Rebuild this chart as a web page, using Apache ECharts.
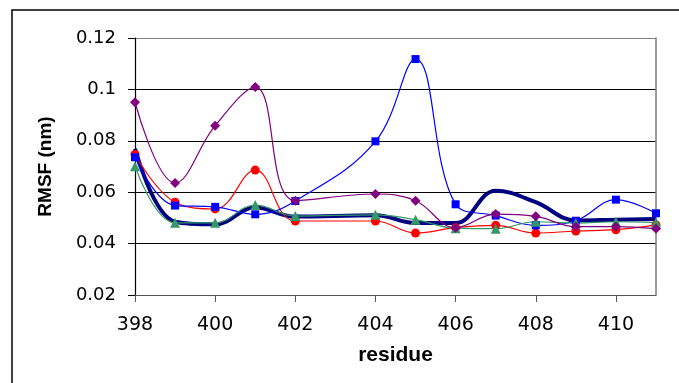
<!DOCTYPE html>
<html>
<head>
<meta charset="utf-8">
<script src="https://cdn.jsdelivr.net/npm/echarts@6/dist/echarts.min.js"></script>
<style>
  html, body { margin: 0; padding: 0; background: #fff; }
  #chart { width: 679px; height: 383px; }
</style>
</head>
<body>
<div id="chart"></div>
<script>
// residue numbers (403 has no data point)
var residues = [398, 399, 400, 401, 402, 404, 405, 406, 407, 408, 409, 410, 411];
var xTicks = [398, 400, 402, 404, 406, 408, 410];

var purpleVals = [0.095, 0.0636, 0.0859, 0.1009, 0.0567, 0.0593, 0.0567, 0.0462, 0.0515, 0.0506, 0.0466, 0.0466, 0.0458];
var blueVals   = [0.0736, 0.0548, 0.0543, 0.0514, 0.0566, 0.0798, 0.1118, 0.0553, 0.0509, 0.0471, 0.0489, 0.0571, 0.0518];
var redVals    = [0.0747, 0.0561, 0.0535, 0.0686, 0.0488, 0.0488, 0.0441, 0.0462, 0.0471, 0.0441, 0.0449, 0.0454, 0.0473];
var greenVals  = [0.0701, 0.0481, 0.0481, 0.055, 0.0507, 0.0512, 0.0493, 0.046, 0.0458, 0.0485, 0.048, 0.0485, 0.0482];
var navyVals   = [0.0769, 0.0485, 0.0475, 0.054, 0.0505, 0.051, 0.048, 0.048, 0.0606, 0.0561, 0.049, 0.0493, 0.0496];

function pairs(vals) {
    return residues.map(function (r, i) { return [r, vals[i]]; });
}

function lineSeries(name, vals, color, symbol, size, width) {
    return {
        name: name,
        type: 'line',
        smooth: 0.4,
        symbol: symbol,
        symbolSize: size,
        showSymbol: symbol !== 'none',
        itemStyle: { color: color },
        lineStyle: { color: color, width: width },
        data: pairs(vals)
    };
}

var chart = echarts.init(document.getElementById('chart'));
var option = {
    animation: false,
    backgroundColor: '#fff',
    grid: { left: 135, right: 23, top: 38, bottom: 88 },
    graphic: [{
        type: 'rect',
        shape: { x: 12, y: 10, width: 720, height: 420 },
        style: { fill: 'none', stroke: '#000', lineWidth: 1.5 },
        silent: true
    }],
    xAxis: {
        type: 'value',
        min: 398,
        max: 411,
        interval: 2,
        name: 'residue',
        nameLocation: 'middle',
        nameGap: 50,
        nameTextStyle: { fontFamily: 'Liberation Sans', fontWeight: 'bold', fontSize: 21, color: '#000' },
        axisLine: { lineStyle: { color: '#555', width: 1.2 } },
        axisTick: { show: true, length: 7, lineStyle: { color: '#555' }, customValues: xTicks },
        axisLabel: { customValues: xTicks, margin: 21, fontFamily: 'DejaVu Sans', fontSize: 19, color: '#000' },
        splitLine: { show: false }
    },
    yAxis: [{
        type: 'value',
        min: 0.02,
        max: 0.12,
        interval: 0.02,
        name: 'RMSF (nm)',
        nameLocation: 'middle',
        nameGap: 80,
        nameTextStyle: { fontFamily: 'Liberation Sans', fontWeight: 'bold', fontSize: 19, color: '#000' },
        axisLine: { show: true, lineStyle: { color: '#000', width: 1.2 } },
        axisTick: { show: true, length: 7, lineStyle: { color: '#000' } },
        axisLabel: {
            margin: 19,
            fontFamily: 'DejaVu Sans',
            fontSize: 18,
            color: '#000',
            formatter: function (v) { return String(+v.toFixed(2)); }
        },
        splitLine: {
            show: true,
            lineStyle: { color: ['#808080', '#000', '#000', '#000', '#000', '#808080'], width: 1.2 }
        }
    }, {
        type: 'value',
        position: 'right',
        min: 0.02,
        max: 0.12,
        axisLine: { show: true, lineStyle: { color: '#808080', width: 1.5 } },
        axisTick: { show: false },
        axisLabel: { show: false },
        splitLine: { show: false }
    }],
    series: [
        lineSeries('navy', navyVals, '#000080', 'none', 0, 4),
        lineSeries('red', redVals, '#ff0000', 'circle', 9, 1.2),
        lineSeries('blue', blueVals, '#0000ff', 'rect', 8, 1.2),
        lineSeries('green', greenVals, '#339966', 'triangle', 10, 1.2),
        lineSeries('purple', purpleVals, '#800080', 'diamond', 10, 1.2)
    ]
};
chart.setOption(option);
</script>
</body>
</html>
